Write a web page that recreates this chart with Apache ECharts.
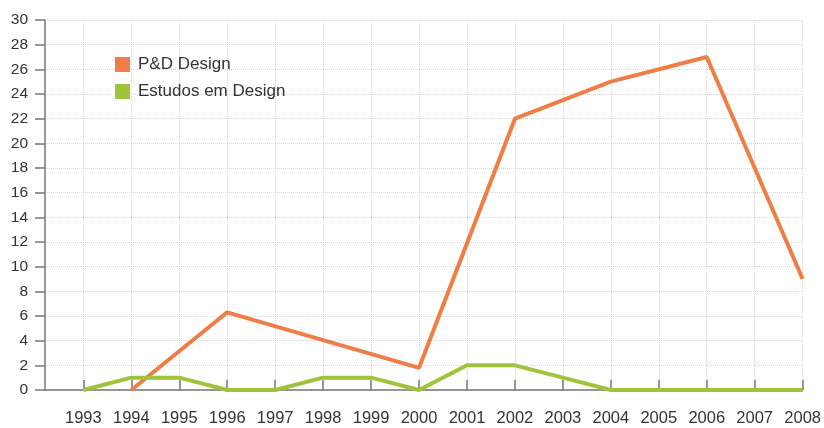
<!DOCTYPE html>
<html>
<head>
<meta charset="utf-8">
<script src="https://cdn.jsdelivr.net/npm/echarts@6/dist/echarts.min.js"></script>
<style>
html,body{margin:0;padding:0;background:#fff;}
#chart{width:824px;height:428px;}
</style>
</head>
<body>
<div id="chart"></div>
<script>
var years = [1993,1994,1995,1996,1997,1998,1999,2000,2001,2002,2003,2004,2005,2006,2007,2008];
var pdDesign = [null,0,null,6.3,null,null,null,1.8,null,22,null,25,null,27,null,9];
var estudosDesign = [0,1,1,0,0,1,1,0,2,2,1,0,0,0,0,0];
var seriesNames = ['P&D Design','Estudos em Design'];
var seriesColors = ['#F07D45','#9DC43A'];

function pairs(vals){ return years.map(function(y,i){ return [y, vals[i]]; }); }

var chart = echarts.init(document.getElementById('chart'), null, {renderer:'canvas'});
chart.setOption({
  animation:false,
  backgroundColor:'#fff',
  textStyle:{fontFamily:'Liberation Sans'},
  grid:{left:45,right:21,top:20,bottom:38},
  legend:{
    orient:'vertical', left:110, top:51, itemWidth:15, itemHeight:15, itemGap:10,
    icon:'rect',
    textStyle:{fontSize:17,color:'#333',fontFamily:'Liberation Sans',padding:[0,0,0,3]},
    data:seriesNames
  },
  xAxis:{
    type:'value', min:1992.2, max:2008,
    axisLine:{lineStyle:{color:'#777',width:1.5}},
    axisTick:{inside:true,length:10,customValues:years,lineStyle:{color:'#777',width:1.5}},
    axisLabel:{fontSize:16.5, color:'#333', margin:20, customValues:years,
      formatter:function(v){ return String(Math.round(v)); }},
    splitLine:{show:true,lineStyle:{color:'#d6d6d6',type:'dotted',width:1}}
  },
  yAxis:{
    type:'value', min:0, max:30, interval:2,
    axisLine:{show:true,lineStyle:{color:'#777',width:1.5}},
    axisTick:{show:true,length:10,lineStyle:{color:'#777',width:1.5}},
    axisLabel:{fontSize:15.5,color:'#333',margin:17},
    splitLine:{show:true,lineStyle:{color:'#d6d6d6',type:'dotted',width:1}}
  },
  series:[
    {name:seriesNames[0],type:'line',data:pairs(pdDesign),connectNulls:true,showSymbol:false,symbol:'none',
     color:seriesColors[0],lineStyle:{width:4,color:seriesColors[0]}},
    {name:seriesNames[1],type:'line',data:pairs(estudosDesign),showSymbol:false,symbol:'none',
     color:seriesColors[1],lineStyle:{width:4,color:seriesColors[1]}}
  ]
});
</script>
</body>
</html>
